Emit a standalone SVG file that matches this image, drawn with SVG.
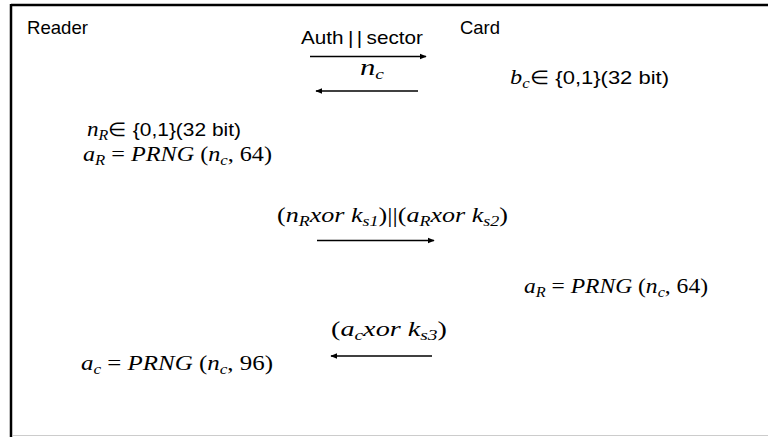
<svg xmlns="http://www.w3.org/2000/svg" width="768" height="437" viewBox="0 0 768 437">
<style>
.t{font-family:"Liberation Sans",Arial,sans-serif;font-size:18.5px;fill:#000}
.u{font-family:"Liberation Sans",Arial,sans-serif;font-size:19px;font-style:normal;fill:#000}
.m{font-family:"Liberation Serif","Times New Roman",serif;font-size:21px;fill:#000}
.i{font-style:italic}
.s{font-size:14.5px;font-style:italic}
.ln{stroke:#000;stroke-width:1.3;fill:none}
</style>
<defs>
<marker id="ah" viewBox="0 0 10 10" refX="9" refY="5" markerWidth="7" markerHeight="7" markerUnits="userSpaceOnUse" orient="auto">
<path d="M0,1 L10,5 L0,9 Z" fill="#000"/>
</marker>
</defs>
<rect width="768" height="437" fill="#fff"/>
<g id="frame">
<line x1="11" y1="5" x2="768" y2="5" stroke="#000" stroke-width="2.5"/>
<line x1="11" y1="4" x2="11" y2="437" stroke="#000" stroke-width="2.5"/>
<line x1="13" y1="435.5" x2="768" y2="435.5" stroke="#ccc" stroke-width="1"/>
</g>
<g id="reader"><text class="t" x="27" y="34" textLength="61" lengthAdjust="spacingAndGlyphs">Reader</text></g>
<g id="card"><text class="t" x="460" y="34" textLength="40" lengthAdjust="spacingAndGlyphs">Card</text></g>
<g id="msg1"><text class="t" x="301" y="44" textLength="122" lengthAdjust="spacingAndGlyphs">Auth<tspan dx="4">|</tspan><tspan dx="3">|</tspan><tspan dx="4">sector</tspan></text></g>
<g id="msg2"><text class="m" x="360" y="75" style="font-size:23px" textLength="24" lengthAdjust="spacingAndGlyphs"><tspan class="i">n</tspan><tspan class="s" dy="4">c</tspan></text></g>
<g id="card-bc"><text class="m" x="510" y="84" textLength="159" lengthAdjust="spacingAndGlyphs"><tspan class="i">b</tspan><tspan class="s" dy="4">c</tspan><tspan class="u" dy="-4">∈ {0,1}(32 bit)</tspan></text></g>
<g id="reader-nr"><text class="m" x="87" y="136" textLength="154" lengthAdjust="spacingAndGlyphs"><tspan class="i">n</tspan><tspan class="s" dy="4">R</tspan><tspan class="u" dy="-4">∈ {0,1}(32 bit)</tspan></text></g>
<g id="reader-ar"><text class="m" x="83" y="161" textLength="189" lengthAdjust="spacingAndGlyphs"><tspan class="i">a</tspan><tspan class="s" dy="4">R</tspan><tspan dy="-4"> = </tspan><tspan class="i">PRNG</tspan><tspan> (</tspan><tspan class="i">n</tspan><tspan class="s" dy="4">c</tspan><tspan dy="-4">, 64)</tspan></text></g>
<g id="msg3"><text class="m" x="277" y="222" textLength="231" lengthAdjust="spacingAndGlyphs"><tspan>(</tspan><tspan class="i">n</tspan><tspan class="s" dy="4">R</tspan><tspan class="i" dy="-4">xor k</tspan><tspan class="s" dy="4">s1</tspan><tspan dy="-4">)||(</tspan><tspan class="i">a</tspan><tspan class="s" dy="4">R</tspan><tspan class="i" dy="-4">xor k</tspan><tspan class="s" dy="4">s2</tspan><tspan dy="-4">)</tspan></text></g>
<g id="card-ar"><text class="m" x="524" y="293" textLength="184" lengthAdjust="spacingAndGlyphs"><tspan class="i">a</tspan><tspan class="s" dy="4">R</tspan><tspan dy="-4"> = </tspan><tspan class="i">PRNG</tspan><tspan> (</tspan><tspan class="i">n</tspan><tspan class="s" dy="4">c</tspan><tspan dy="-4">, 64)</tspan></text></g>
<g id="msg4"><text class="m" x="331" y="336" textLength="116" lengthAdjust="spacingAndGlyphs"><tspan>(</tspan><tspan class="i">a</tspan><tspan class="s" dy="4">c</tspan><tspan class="i" dy="-4">xor k</tspan><tspan class="s" dy="4">s3</tspan><tspan dy="-4">)</tspan></text></g>
<g id="reader-ac"><text class="m" x="81" y="370" textLength="192" lengthAdjust="spacingAndGlyphs"><tspan class="i">a</tspan><tspan class="s" dy="4">c</tspan><tspan dy="-4"> = </tspan><tspan class="i">PRNG</tspan><tspan> (</tspan><tspan class="i">n</tspan><tspan class="s" dy="4">c</tspan><tspan dy="-4">, 96)</tspan></text></g>
<g id="connectors">
<line class="ln" x1="310" y1="56.5" x2="426" y2="56.5" marker-end="url(#ah)"/>
<line class="ln" x1="418" y1="91" x2="316" y2="91" marker-end="url(#ah)"/>
<line class="ln" x1="317" y1="240.5" x2="434" y2="240.5" marker-end="url(#ah)"/>
<line class="ln" x1="432" y1="356" x2="331" y2="356" marker-end="url(#ah)"/>
</g>
</svg>
